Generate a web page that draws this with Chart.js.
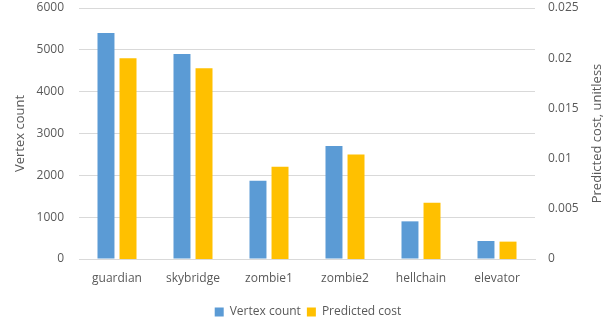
<!DOCTYPE html>
<html>
<head>
<meta charset="utf-8">
<script src="https://cdn.jsdelivr.net/npm/chart.js@4/dist/chart.umd.min.js"></script>
<style>
  html, body { margin: 0; padding: 0; background: #fff; }
  #wrap { width: 616px; height: 326px; }
</style>
</head>
<body>
<div id="wrap"><canvas id="c" width="616" height="326"></canvas></div>
<script>
const categories = ['guardian', 'skybridge', 'zombie1', 'zombie2', 'hellchain', 'elevator'];
const vertexCount = [5400, 4900, 1870, 2700, 900, 430];
const predictedCost = [0.0200, 0.0190, 0.0092, 0.0104, 0.0056, 0.00173];
const vertexTicks = [0, 1000, 2000, 3000, 4000, 5000, 6000];
const costTicks = [0, 0.005, 0.01, 0.015, 0.02, 0.025];
const rightTitle = 'Predicted cost, unitless';

const FONT = "'Open Sans', 'Liberation Sans', sans-serif";
const TEXT = '#595959';
const GRID = '#d9d9d9';

// Fixed axis band sizes so the plot area sits where it should.
function fitBand(size, horizontal) {
  return (s) => {
    s.paddingTop = 0; s.paddingBottom = 0;
    s.paddingLeft = 0; s.paddingRight = 0;
    if (horizontal) s.height = size; else s.width = size;
  };
}

// The right-hand axis title reads bottom-to-top, like the left one.
const rightTitlePlugin = {
  id: 'rightTitle',
  afterDraw(chart) {
    const s = chart.scales.y1;
    const ctx = chart.ctx;
    ctx.save();
    ctx.font = '13px ' + FONT;
    ctx.fillStyle = TEXT;
    ctx.textAlign = 'center';
    ctx.textBaseline = 'middle';
    ctx.translate(s.right - 19, (s.top + s.bottom) / 2);
    ctx.rotate(-Math.PI / 2);
    ctx.fillText(rightTitle, 0, 0);
    ctx.restore();
  }
};

new Chart(document.getElementById('c'), {
  type: 'bar',
  data: {
    labels: categories,
    datasets: [
      {
        label: 'Vertex count',
        data: vertexCount,
        yAxisID: 'y',
        backgroundColor: '#5b9bd5',
        borderWidth: 0,
        categoryPercentage: 0.58,
        barPercentage: 0.77
      },
      {
        label: 'Predicted cost',
        data: predictedCost,
        yAxisID: 'y1',
        backgroundColor: '#ffc000',
        borderWidth: 0,
        categoryPercentage: 0.58,
        barPercentage: 0.77
      }
    ]
  },
  options: {
    responsive: false,
    animation: false,
    layout: { padding: { top: 8, left: 0, right: 0, bottom: -2 } },
    plugins: {
      legend: {
        position: 'bottom',
        labels: {
          color: TEXT,
          font: { family: FONT, size: 12 },
          boxWidth: 9,
          boxHeight: 9,
          padding: 6
        }
      },
      tooltip: { enabled: false }
    },
    scales: {
      x: {
        grid: { display: false },
        border: { color: GRID },
        ticks: { color: TEXT, font: { family: FONT, size: 12 }, padding: 4, maxRotation: 0 },
        afterFit: fitBand(41, true)
      },
      y: {
        position: 'left',
        min: 0,
        max: 6000,
        afterBuildTicks: (axis) => { axis.ticks = vertexTicks.map(v => ({ value: v })); },
        grid: { color: GRID, lineWidth: 1, drawTicks: false },
        border: { display: false },
        ticks: { color: TEXT, font: { family: FONT, size: 12 }, padding: 15, callback: (v) => String(v) },
        title: { display: true, text: 'Vertex count', color: TEXT, font: { family: FONT, size: 13 }, padding: 12 },
        afterFit: fitBand(79, false)
      },
      y1: {
        position: 'right',
        min: 0,
        max: 0.025,
        afterBuildTicks: (axis) => { axis.ticks = costTicks.map(v => ({ value: v })); },
        grid: { display: false, drawTicks: false },
        border: { display: false },
        ticks: { color: TEXT, font: { family: FONT, size: 12 }, padding: 13, callback: (v) => String(v) },
        afterFit: fitBand(81, false)
      }
    }
  },
  plugins: [rightTitlePlugin]
});
</script>
</body>
</html>
